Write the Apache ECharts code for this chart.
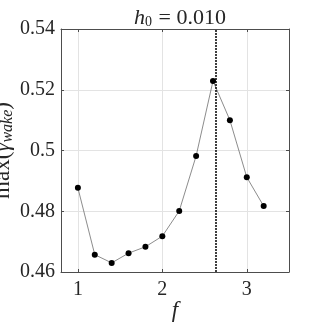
<!DOCTYPE html>
<html>
<head>
<meta charset="utf-8">
<script src="https://cdn.jsdelivr.net/npm/echarts@6/dist/echarts.min.js"></script>
<style>
  html, body { margin: 0; padding: 0; background: #fff; }
  #chart { width: 321px; height: 331px; }
</style>
</head>
<body>
<div id="chart"></div>
<script>
// f values and max(gamma_wake)
var fValues = [1.0, 1.2, 1.4, 1.6, 1.8, 2.0, 2.2, 2.4, 2.6, 2.8, 3.0, 3.2];
var gammaMax = [0.4877, 0.4657, 0.4630, 0.4662, 0.4683, 0.4718, 0.4801, 0.4982, 0.5229, 0.5100, 0.4912, 0.4817];
var xTicks = [1, 2, 3];
var peakF = 2.63;

var font = 'Liberation Serif';
var ink = '#262626';

var points = [];
for (var i = 0; i < fValues.length; i++) {
	points.push([fValues[i], gammaMax[i]]);
}

var chart = echarts.init(document.getElementById('chart'));

var xBase = {
	type: 'value',
	min: 0.8,
	max: 3.5,
	axisLine: { show: true, onZero: false, lineStyle: { color: '#4d4d4d', width: 1 } },
	axisTick: { show: true, inside: true, length: 3, customValues: xTicks, lineStyle: { color: '#4d4d4d' } },
	axisLabel: { show: false, customValues: xTicks },
	splitLine: { show: false }
};

var yBase = {
	type: 'value',
	min: 0.46,
	max: 0.54,
	interval: 0.02,
	axisLine: { show: true, onZero: false, lineStyle: { color: '#4d4d4d', width: 1 } },
	axisTick: { show: true, inside: true, length: 3, lineStyle: { color: '#4d4d4d' } },
	axisLabel: { show: false },
	splitLine: { show: false }
};

chart.setOption({
	animation: false,
	backgroundColor: '#fff',
	title: {
		text: '{i|h}{s|0}{n| = 0.010}',
		left: 175,
		textAlign: 'center',
		top: 2,
		textStyle: {
			fontWeight: 'normal',
			rich: {
				i: { fontFamily: font, fontStyle: 'italic', fontWeight: 'normal', fontSize: 22, color: ink },
				s: { fontFamily: font, fontWeight: 'normal', fontSize: 14, color: ink, padding: [8, 1, 0, 0] },
				n: { fontFamily: font, fontWeight: 'normal', fontSize: 22, color: ink }
			}
		}
	},
	grid: { left: 61, right: 32, top: 29, bottom: 59, outerBoundsMode: 'none' },
	xAxis: [
		echarts.util.merge({
			position: 'bottom',
			name: 'f',
			nameLocation: 'middle',
			nameGap: 27,
			nameMoveOverlap: false,
			nameTextStyle: { fontFamily: font, fontStyle: 'italic', fontSize: 23, color: ink },
			axisLabel: { show: true, margin: 8, fontFamily: font, fontSize: 20, color: ink },
			splitLine: { show: true, lineStyle: { color: '#e3e3e3', width: 1 } }
		}, xBase, false),
		echarts.util.merge({ position: 'top' }, xBase, false)
	],
	yAxis: [
		echarts.util.merge({
			position: 'left',
			name: '{n|max(}{g|γ}{s|wake}{n|)}',
			nameLocation: 'middle',
			nameGap: 45,
			nameMoveOverlap: false,
			nameTextStyle: {
				rich: {
					n: { fontFamily: font, fontSize: 23, color: ink },
					g: { fontFamily: font, fontStyle: 'italic', fontSize: 23, color: ink },
					s: { fontFamily: font, fontStyle: 'italic', fontSize: 16, color: ink, padding: [11, 0, 0, 0] }
				}
			},
			axisLabel: { show: true, margin: 6, fontFamily: font, fontSize: 20, color: ink },
			splitLine: { show: true, lineStyle: { color: '#e3e3e3', width: 1 } }
		}, yBase, false),
		echarts.util.merge({ position: 'right' }, yBase, false)
	],
	series: [
		{
			type: 'line',
			data: points,
			symbol: 'circle',
			symbolSize: 6,
			itemStyle: { color: '#000' },
			lineStyle: { color: '#6e6e6e', width: 0.8 },
			markLine: {
				silent: true,
				symbol: 'none',
				label: { show: false },
				lineStyle: { color: '#000', type: [2, 1], width: 1.5 },
				data: [{ xAxis: peakF }]
			}
		}
	]
});
</script>
</body>
</html>
